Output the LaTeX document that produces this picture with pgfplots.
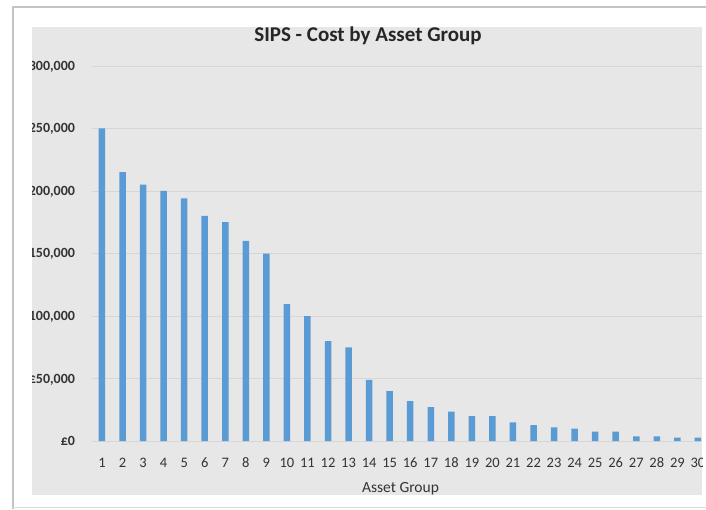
\documentclass[border=0pt]{standalone}
\usepackage{pgfplots}
\pgfplotsset{compat=1.18}
\usepackage{fontspec}
\setmainfont{Carlito}
\definecolor{bgrey}{HTML}{E7E7E7}
\definecolor{gridc}{HTML}{D6D6D6}
\definecolor{barblue}{HTML}{5B9BD5}
\definecolor{txt}{HTML}{333333}
\definecolor{frame}{HTML}{C4C4C4}
\begin{document}
\begin{tikzpicture}[x=1pt,y=1pt]
\path[use as bounding box, fill=white] (0,0) rectangle (706,509);
\draw[frame, line width=1.5pt] (13,0) -- (13,502) -- (706,502);
\draw[frame!60, line width=1pt] (13,2) -- (706,2);
\fill[bgrey] (32,14) rectangle (702,482);
\begin{scope}
\clip (32,14) rectangle (702,482);
\begin{axis}[
  at={(91.7pt,68pt)}, anchor=south west,
  scale only axis, width=616.5pt, height=375pt,
  xmin=0.5, xmax=30.5, ymin=0, ymax=300000,
  ybar, bar width=6.5pt,
  axis line style={draw=none},
  major tick length=0pt,
  ymajorgrids, grid style={gridc, line width=0.9pt},
  xtick={1,...,30},
  ytick={0,50000,100000,150000,200000,250000,300000},
  yticklabels={{£0},{£50,000},{£100,000},{£150,000},{£200,000},{£250,000},{£300,000}},
  /pgf/number format/assume math mode=true,
  tick label style={text=txt, inner sep=0pt},
  xticklabel style={font=\fontsize{14.5}{14.5}\selectfont, anchor=base, yshift=-26pt},
  yticklabel style={font=\bfseries\fontsize{14}{14}\selectfont, anchor=base east, xshift=-16.5pt, yshift=-4.5pt},
  scaled y ticks=false,
  clip=false,
]
\addplot[fill=barblue, draw=none] coordinates {
(1,250000) (2,215000) (3,205000) (4,200000) (5,194000) (6,180000) (7,175000) (8,160000) (9,150000) (10,109500)
(11,100000) (12,80000) (13,75000) (14,49000) (15,40000) (16,32000) (17,27200) (18,23500) (19,20000) (20,20000)
(21,15000) (22,12800) (23,10900) (24,9900) (25,7500) (26,7500) (27,3700) (28,3700) (29,2700) (30,2700)
};
\end{axis}
\node[anchor=base, inner sep=0pt, text=txt, font=\fontsize{15.5}{15.5}\selectfont] at (400.5,16.5) {Asset Group};
\node[anchor=base, inner sep=0pt, text={black!85}, font=\bfseries\fontsize{21}{21}\selectfont] at (368,467.3) {SIPS - Cost by Asset Group};
\end{scope}
\end{tikzpicture}
\end{document}
